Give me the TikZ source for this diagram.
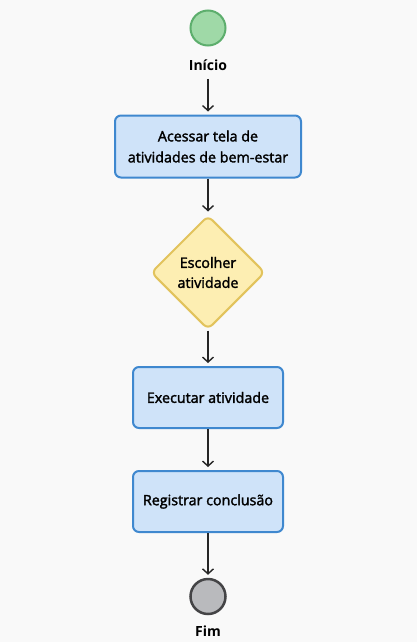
\documentclass[tikz,border=0pt]{standalone}
\usepackage{fontspec}
\setmainfont{Open Sans}
\newfontfamily\medfont{Open Sans}[FakeBold=2]
\usepackage{tikz}
\usetikzlibrary{shapes.geometric,arrows.meta}

\definecolor{bgcol}{HTML}{F9F9F9}
\definecolor{startfill}{HTML}{9FD9A7}
\definecolor{startline}{HTML}{5DAE6D}
\definecolor{boxfill}{HTML}{CFE3F9}
\definecolor{boxline}{HTML}{3F88CF}
\definecolor{decfill}{HTML}{FDEEB2}
\definecolor{decline}{HTML}{E2C35C}
\definecolor{endfill}{HTML}{B9BABD}
\definecolor{endline}{HTML}{444446}

\tikzset{
  stepbox/.style={draw=boxline,fill=boxfill,line width=2pt,rounded corners=6pt,
    align=center,font=\medfont\fontsize{14.3}{21}\selectfont,inner sep=0pt},
  decision/.style={diamond,draw=decline,fill=decfill,line width=2pt,rounded corners=6pt,
    align=center,font=\medfont\fontsize{14.3}{20}\selectfont,inner sep=0pt,
    minimum width=114pt,minimum height=114pt},
  flow/.style={-{Straight Barb[length=5pt,width=11pt]},line width=1.4pt,
    color=black!85,shorten >=3pt},
  caption/.style={font=\bfseries\fontsize{14}{15}\selectfont}
}

\begin{document}
\begin{tikzpicture}[x=1pt,y=-1pt]
        \fill[bgcol] (0,0) rectangle (417,642);
        \useasboundingbox (0,0) rectangle (417,642);
        % start and label
        \node[circle,draw=startline,fill=startfill,line width=2pt,minimum size=35pt,inner sep=0pt]
          (start) at (208,28) {};
        \node[caption] (startlbl) at (208,65) {Início};
        % steps
        \node[stepbox,minimum width=186pt,minimum height=62pt] (access) at (208,146.5)
          {Acessar tela de\\atividades de bem-estar};
        \node[decision] (choose) at (208,272.5) {Escolher\\atividade};
        \node[stepbox,minimum width=150pt,minimum height=61pt] (run) at (208,397.5)
          {Executar atividade};
        \node[stepbox,minimum width=150pt,minimum height=61pt] (record) at (208,501.5)
          {Registrar conclusão};
        % end and label
        \node[circle,draw=endline,fill=endfill,line width=2.5pt,minimum size=35pt,inner sep=0pt]
          (stop) at (208,596.5) {};
        \node[caption] (stoplbl) at (208,631) {Fim};
        % connectors
        \draw[flow] ([yshift=-5pt]startlbl.south) -- (access.north);
        \draw[flow] (access.south) -- (choose.north);
        \draw[flow] (choose.south) -- (run.north);
        \draw[flow] (run.south) -- (record.north);
        \draw[flow] (record.south) -- (stop.north);
      \end{tikzpicture}
\end{document}
